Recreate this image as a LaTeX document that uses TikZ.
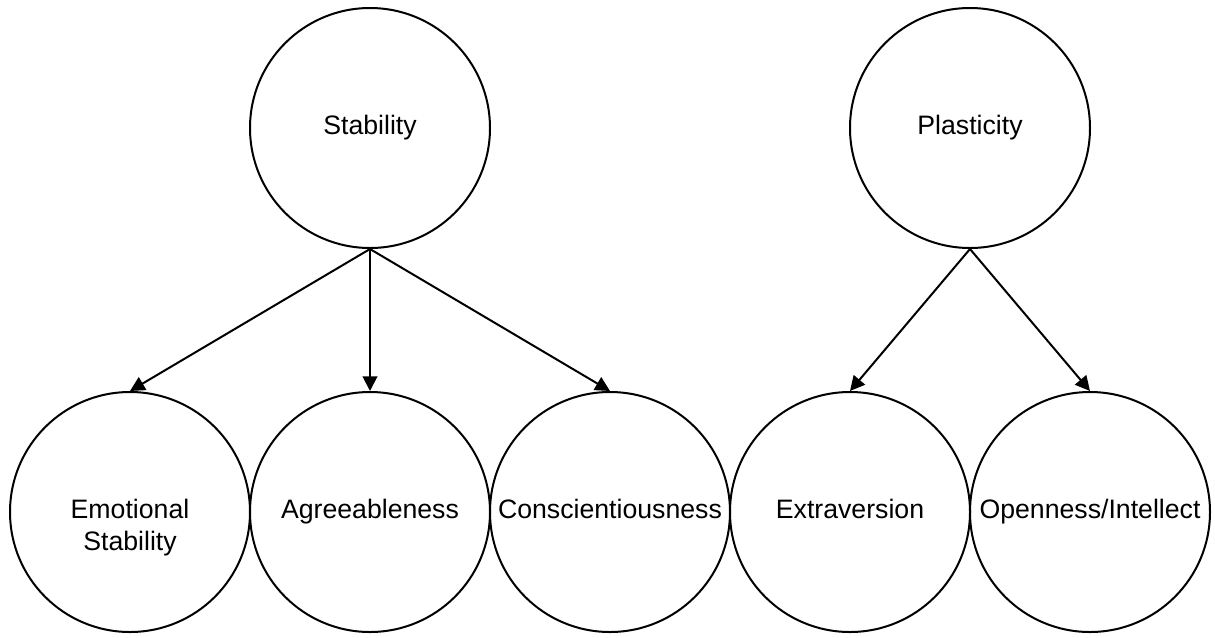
\documentclass[tikz,border=0pt]{standalone}
\usepackage{fontspec}
\setmainfont{Liberation Sans}
\usetikzlibrary{arrows.meta}
\tikzset{
  factor/.style={draw,circle,line width=1.5pt,minimum size=180pt,inner sep=0pt,
    align=center,text height=14pt,text depth=4pt,
    font=\fontsize{20}{24}\selectfont},
  link/.style={line width=1.5pt,-{Triangle[length=11pt,width=11pt]}}
}
\begin{document}
\begin{tikzpicture}[x=0.75pt,y=-0.75pt]
  \useasboundingbox (0,0) rectangle (1215,637);
  % higher order factors
  \node [factor] (stab) at (370,128) {Stability};
  \node [factor] (plas) at (970,128) {Plasticity};
  % big five
  \node [factor] (emo) at (130,512)
    {\begin{tabular}[t]{@{}c@{}}Emotional\\Stability\end{tabular}};
  \node [factor] (agr) at (370,512) {Agreeableness};
  \node [factor] (con) at (610,512) {Conscientiousness};
  \node [factor] (ext) at (850,512) {Extraversion};
  \node [factor] (opn) at (1090,512) {Openness/Intellect};
  \draw [link] (stab.south) -- (emo.north);
  \draw [link] (stab.south) -- (agr.north);
  \draw [link] (stab.south) -- (con.north);
  \draw [link] (plas.south) -- (ext.north);
  \draw [link] (plas.south) -- (opn.north);
\end{tikzpicture}
\end{document}
